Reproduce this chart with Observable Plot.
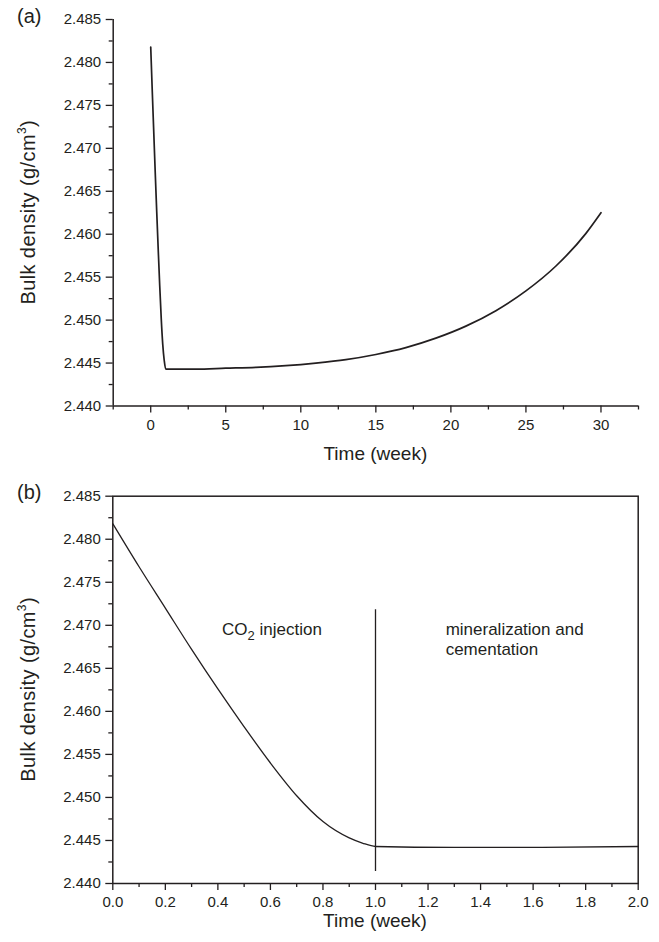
<!DOCTYPE html>
<html>
<head>
<meta charset="utf-8">
<script src="https://cdn.jsdelivr.net/npm/d3@7"></script>
<script src="https://cdn.jsdelivr.net/npm/@observablehq/plot@0.6"></script>
<style>
  body { margin: 0; background: #fff; }
  #wrap { position: relative; width: 659px; height: 942px; font-family: "Liberation Sans", Arial, sans-serif; color: #231f20; overflow: hidden; }
  .panel { position: absolute; left: 0; }
  .tag { position: absolute; font-size: 20px; line-height: 23px; }
</style>
</head>
<body>
<div id="wrap">
  <div id="pa" class="panel" style="top:0px"></div>
  <div id="pb" class="panel" style="top:470px"></div>
  <div class="tag" style="left:17px;top:5px">(a)</div>
  <div class="tag" style="left:17px;top:481px">(b)</div>
</div>
<script>
// ---------- data ----------
const panelTags = ["(a)", "(b)"];
const xAxisLabel = "Time (week)";
const yAxisLabel = "Bulk density (g/cm";
const yAxisLabelSup = "3";

// Panel (a): full 30-week simulation
const weeksA   = [0, 0.1, 0.2, 0.3, 0.4, 0.5, 0.6, 0.7, 0.8, 0.9, 1, 3, 5, 7, 9, 11, 13, 15, 17, 19, 21, 23, 25, 27, 29, 30];
const densityA = [2.4818, 2.4768, 2.4720, 2.4672, 2.4626, 2.4582, 2.4540, 2.4502, 2.4472, 2.4453, 2.4443,
                  2.4443, 2.4444, 2.4445, 2.4447, 2.4450, 2.4454, 2.4460, 2.4468, 2.4479, 2.4493, 2.4511,
                  2.4534, 2.4563, 2.4601, 2.4625];

// Panel (b): first two weeks
const weeksB   = [0, 0.1, 0.2, 0.3, 0.4, 0.5, 0.6, 0.7, 0.8, 0.9, 0.95, 1.0, 1.3, 1.6, 2.0];
const densityB = [2.4818, 2.4768, 2.4720, 2.4672, 2.4626, 2.4582, 2.4540, 2.4502, 2.4472, 2.4453, 2.4447, 2.4443,
                  2.4442, 2.4442, 2.4443];

// axes
const yDomain   = [2.440, 2.485];
const yMajor    = [2.440, 2.445, 2.450, 2.455, 2.460, 2.465, 2.470, 2.475, 2.480, 2.485];
const yMinor    = [2.4425, 2.4475, 2.4525, 2.4575, 2.4625, 2.4675, 2.4725, 2.4775, 2.4825];
const xDomainA  = [-2.5, 32.5];
const xMajorA   = [0, 5, 10, 15, 20, 25, 30];
const xMinorA   = [-2.5, 2.5, 7.5, 12.5, 17.5, 22.5, 27.5, 32.5];
const xDomainB  = [0, 2];
const xMajorB   = [0, 0.2, 0.4, 0.6, 0.8, 1.0, 1.2, 1.4, 1.6, 1.8, 2.0];
const xMinorB   = [0.1, 0.3, 0.5, 0.7, 0.9, 1.1, 1.3, 1.5, 1.7, 1.9];

// phase boundary & labels in panel (b)
const boundaryWeek  = [1.0];
const boundaryFrom  = [2.4414];
const boundaryTo    = [2.4718];
const phaseNames    = ["CO2 injection", "mineralization and\ncementation"];
const phaseWeek     = [0.416, 1.267];
const phaseDensity  = [2.4705, 2.4705];

// ---------- drawing ----------
const ink = "#231f20";
const font = "'Liberation Sans', Arial, sans-serif";
const baseStyle = { fontFamily: font, fontSize: "15px", color: ink, background: "white", overflow: "visible" };

function axes(xMajor, xMinor, xFmt) {
  return [
    Plot.axisY(yMajor, { tickSize: 7, tickPadding: 5, tickFormat: d3.format(".3f"), label: null, stroke: ink, strokeWidth: 1.3, fill: ink, fontSize: 15 }),
    Plot.axisY(yMinor, { tickSize: 4, tickFormat: () => "", label: null, stroke: ink, strokeWidth: 1.3 }),
    Plot.axisX(xMajor, { tickSize: 7, tickPadding: 6, tickFormat: xFmt, label: null, stroke: ink, strokeWidth: 1.3, fill: ink, fontSize: 15 }),
    Plot.axisX(xMinor, { tickSize: 4, tickFormat: () => "", label: null, stroke: ink, strokeWidth: 1.3 })
  ];
}

const dataA = weeksA.map((w, i) => ({ w, d: densityA[i] }));
const dataB = weeksB.map((w, i) => ({ w, d: densityB[i] }));

const plotA = Plot.plot({
  width: 659, height: 470,
  marginLeft: 112.7, marginRight: 21, marginTop: 19, marginBottom: 64.5,
  x: { domain: xDomainA },
  y: { domain: yDomain },
  style: baseStyle,
  marks: [
    ...axes(xMajorA, xMinorA, d3.format("d")),
    Plot.ruleX([xDomainA[0]], { stroke: ink, strokeWidth: 1.5 }),
    Plot.ruleY([yDomain[0]], { stroke: ink, strokeWidth: 1.5 }),
    Plot.line(dataA, { x: "w", y: "d", curve: "monotone-x", stroke: ink, strokeWidth: 1.7 })
  ]
});

const phaseData = phaseNames.map((t, i) => ({ t, w: phaseWeek[i], d: phaseDensity[i] }));

const plotB = Plot.plot({
  width: 659, height: 472,
  marginLeft: 112.3, marginRight: 21.3, marginTop: 25.7, marginBottom: 59,
  x: { domain: xDomainB },
  y: { domain: yDomain },
  style: baseStyle,
  marks: [
    ...axes(xMajorB, xMinorB, d3.format(".1f")),
    Plot.frame({ stroke: ink, strokeWidth: 1.5 }),
    Plot.ruleX(boundaryWeek, { x: d => d, y1: (d, i) => boundaryFrom[i], y2: (d, i) => boundaryTo[i], stroke: ink, strokeWidth: 1.3 }),
    Plot.line(dataB, { x: "w", y: "d", curve: "monotone-x", stroke: ink, strokeWidth: 1.3 }),
    Plot.text(phaseData, { x: "w", y: "d", text: "t", textAnchor: "start", lineAnchor: "top", lineHeight: 1.18, fontSize: 17, fill: ink })
  ]
});

document.getElementById("pa").appendChild(plotA);
document.getElementById("pb").appendChild(plotB);

// axis titles (real text, with superscript)
function titles(svgNode, xLabelY) {
  const svg = d3.select(svgNode);
  const xr = svgNode.scale("x").range, yr = svgNode.scale("y").range;
  const cx = (xr[0] + xr[1]) / 2, cy = (yr[0] + yr[1]) / 2;
  svg.append("text")
    .attr("x", cx).attr("y", xLabelY)
    .attr("text-anchor", "middle").attr("dominant-baseline", "middle")
    .attr("font-size", 19).attr("fill", ink).attr("font-family", font)
    .text(xAxisLabel);
  const t = svg.append("text")
    .attr("transform", `translate(35,${cy}) rotate(-90)`)
    .attr("text-anchor", "middle")
    .attr("font-size", 20).attr("letter-spacing", 0.4).attr("fill", ink).attr("font-family", font);
  t.append("tspan").text(yAxisLabel);
  t.append("tspan").attr("font-size", 12).attr("dy", -9).text(yAxisLabelSup);
  t.append("tspan").attr("dy", 9).text(")");
}
titles(plotA, 455);
titles(plotB, 452);

// subscript in "CO2"
d3.select(plotB).selectAll("text").filter(function () { return this.textContent === "CO2 injection"; })
  .each(function () {
    const el = d3.select(this);
    el.text(null);
    el.append("tspan").text("CO");
    el.append("tspan").attr("font-size", 13).attr("dy", 5).text("2");
    el.append("tspan").attr("dy", -5).text(" injection");
  });
</script>
</body>
</html>
